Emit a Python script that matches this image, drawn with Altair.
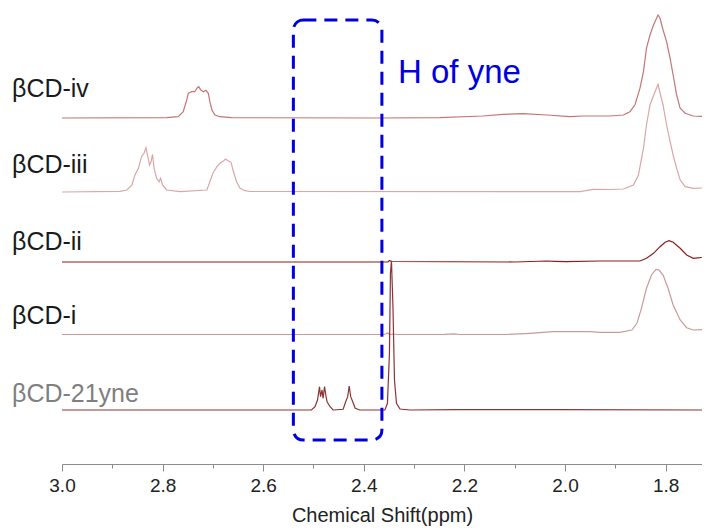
import altair as alt
import pandas as pd

# ---- data (ppm, intensity above each trace's baseline) ----
names = ["βCD-iv", "βCD-iii", "βCD-ii", "βCD-i", "βCD-21yne"]
offsets = [346, 272, 202, 129, 54]

iv_pts = [(3.0, 0), (2.792, 0.3), (2.769, 1.3), (2.759, 6.3), (2.752, 18), (2.749, 24.7),
          (2.742, 26.3), (2.736, 26.3), (2.731, 30.3), (2.728, 31.3), (2.724, 28), (2.719, 26.3),
          (2.714, 27.7), (2.709, 24.7), (2.706, 16.3), (2.702, 8), (2.696, 3), (2.686, 1.3),
          (2.663, 0.3), (2.368, 0), (2.249, 0.3), (2.163, 2), (2.123, 3.7), (2.083, 4.3),
          (2.036, 3), (1.990, 1.3), (1.964, 2), (1.911, 2), (1.884, 3), (1.871, 6.3), (1.861, 13),
          (1.851, 29.7), (1.844, 46.3), (1.838, 69.7), (1.831, 83), (1.824, 93), (1.818, 99.7),
          (1.815, 103), (1.811, 99.7), (1.805, 88), (1.798, 76.3), (1.791, 59.7), (1.785, 43),
          (1.778, 23), (1.771, 9.7), (1.761, 4.7), (1.745, 2), (1.712, 1.3)]

iii_pts = [(3.0, 0), (2.885, 0.7), (2.871, 2), (2.861, 7), (2.855, 17), (2.848, 23.7), (2.842, 35.3),
           (2.837, 38.7), (2.833, 44.3), (2.830, 37), (2.826, 27), (2.823, 30.3), (2.820, 37.7),
           (2.817, 23.7), (2.812, 13.7), (2.807, 10.3), (2.804, 13.7), (2.800, 7), (2.792, 2),
           (2.765, 0.3), (2.712, 2), (2.706, 10.3), (2.700, 18.7), (2.692, 25.3), (2.686, 28.7),
           (2.679, 31), (2.675, 33), (2.669, 31), (2.664, 29.7), (2.660, 22), (2.653, 10.3),
           (2.646, 3.7), (2.636, 1.3), (2.626, 0.5), (1.970, 0.3), (1.944, 2.7), (1.911, 2.5),
           (1.884, 3), (1.864, 7), (1.854, 17), (1.844, 43.7), (1.838, 67), (1.831, 87),
           (1.826, 93.7), (1.821, 100.3), (1.815, 107.7), (1.810, 97), (1.805, 87), (1.798, 67),
           (1.791, 50.3), (1.785, 37), (1.778, 23.7), (1.771, 12), (1.761, 5.3), (1.745, 3.7),
           (1.712, 4.3)]

ii_pts = [(3.0, 0), (2.352, 0), (2.349, 1.5), (2.345, 0.5), (2.100, 0), (2.036, 1), (2.020, 0.7),
          (1.998, 0.3), (1.930, 1), (1.851, 1), (1.838, 3.7), (1.824, 8.7), (1.811, 15.3),
          (1.801, 19.7), (1.793, 21.3), (1.785, 19.7), (1.771, 13.7), (1.758, 7), (1.745, 3.7),
          (1.732, 4.3), (1.712, 6.3)]

i_pts = [(3.0, 0.5), (2.360, 0.5), (2.352, 2), (2.349, 0.5), (2.342, 1), (2.335, 0.5), (2.240, 0.7),
         (2.220, 1.2), (2.210, 0.5), (2.120, 0.5), (2.070, 1.7), (2.024, 3.3), (1.950, 3.3),
         (1.930, 2.7), (1.891, 2.7), (1.867, 5), (1.857, 11.7), (1.848, 26.7), (1.838, 46.7),
         (1.828, 60), (1.819, 65.7), (1.813, 65), (1.805, 60), (1.795, 46.7), (1.785, 30),
         (1.771, 15), (1.758, 7.3), (1.745, 5), (1.712, 5.7)]

yne_pts = [(3.0, 0), (2.504, 0), (2.497, 3.3), (2.492, 10), (2.488, 23.3), (2.486, 13.3), (2.483, 20),
           (2.481, 11.7), (2.478, 23.3), (2.475, 13.3), (2.473, 8.3), (2.467, 3.3), (2.461, 0),
           (2.441, 0.7), (2.436, 8.3), (2.432, 13.3), (2.429, 24), (2.426, 13.3), (2.422, 8.3),
           (2.417, 1.7), (2.408, 0), (2.358, 0), (2.353, 6.7), (2.349, 56.7), (2.347, 136.7),
           (2.345, 149.3), (2.342, 103.3), (2.339, 30), (2.335, 6.7), (2.328, 1), (2.308, 0),
           (2.220, 0.4), (2.010, 0.3), (1.712, 0)]

spectra = [iv_pts, iii_pts, ii_pts, i_pts, yne_pts]

label_ppm = 3.0994
label_y = [367, 291, 214, 140.5, 62.5]

major_ticks = [3.0, 2.8, 2.6, 2.4, 2.2, 2.0, 1.8]
minor_ticks = [2.9, 2.7, 2.5, 2.3, 2.1, 1.9]

box_ppm = [2.540, 2.364]
box_y = [444, 24]
note_text = "H of yne"
note_ppm = 2.332
note_y = 381

# ---- styles ----
line_colors = ["#c47676", "#dba6a6", "#8b1f1f", "#c99a9a", "#8b3434"]
label_colors = ["#1a1a1a", "#1a1a1a", "#1a1a1a", "#1a1a1a", "#7f7f7f"]
FONT = "Liberation Sans"

rows = []
for name, off, pts, col in zip(names, offsets, spectra, line_colors):
    for k, (p, v) in enumerate(pts):
        rows.append({"name": name, "ppm": p, "y": off + v, "idx": k, "col": col})
df = pd.DataFrame(rows)

lab_df = pd.DataFrame({"name": names, "ppm": [label_ppm] * len(names), "y": label_y,
                       "col": label_colors})
box_df = pd.DataFrame({"x1": [box_ppm[0]], "x2": [box_ppm[1]], "y1": [box_y[0]], "y2": [box_y[1]]})
note_df = pd.DataFrame({"t": [note_text], "ppm": [note_ppm], "y": [note_y]})

xscale = alt.Scale(domain=[3.0, 1.7276], nice=False, zero=False)
yscale = alt.Scale(domain=[0, 456], nice=False, zero=False)

major_axis = alt.Axis(values=major_ticks, format=".1f", tickSize=7, labelPadding=5,
                      labelFontSize=19, labelFont=FONT, labelColor="#222222", labelFlush=False,
                      title="Chemical Shift(ppm)", titleFont=FONT, titleFontSize=20,
                      titleFontWeight="normal", titleColor="#222222", titlePadding=10,
                      domainColor="#8c8c8c", tickColor="#8c8c8c", grid=False, orient="bottom")
minor_axis = alt.Axis(values=minor_ticks, tickSize=4, labels=False, domain=False, title=None,
                      tickColor="#8c8c8c", grid=False, orient="bottom")

lines = alt.Chart(df).mark_line(strokeWidth=1.2, clip=True).encode(
    x=alt.X("ppm:Q", scale=xscale, axis=major_axis),
    y=alt.Y("y:Q", scale=yscale, axis=None),
    color=alt.Color("col:N", scale=None),
    detail="name:N",
    order="idx:Q",
)

box = alt.Chart(box_df).mark_rect(fillOpacity=0, stroke="#0000dd", strokeWidth=3,
                                  strokeDash=[13, 8], cornerRadius=10).encode(
    x=alt.X("x1:Q", scale=xscale, axis=minor_axis),
    x2="x2:Q",
    y=alt.Y("y1:Q", scale=yscale, axis=None),
    y2="y2:Q",
)

labels = alt.Chart(lab_df).mark_text(align="left", baseline="alphabetic", fontSize=25,
                                     font=FONT).encode(
    x=alt.X("ppm:Q", scale=xscale, axis=None),
    y=alt.Y("y:Q", scale=yscale, axis=None),
    text="name:N",
    color=alt.Color("col:N", scale=None),
)

note = alt.Chart(note_df).mark_text(align="left", baseline="alphabetic", fontSize=33,
                                    font=FONT, color="#0000e0").encode(
    x=alt.X("ppm:Q", scale=xscale, axis=None),
    y=alt.Y("y:Q", scale=yscale, axis=None),
    text="t:N",
)

chart = alt.layer(lines, box, labels, note).resolve_axis(x="independent").properties(
    width=640, height=456,
    padding={"left": 54, "top": 0, "right": 0, "bottom": 66},
    autosize=alt.AutoSizeParams(type="none"),
).configure_view(stroke=None)

chart.save("out.html", embed_options={"renderer": "svg", "actions": False})
